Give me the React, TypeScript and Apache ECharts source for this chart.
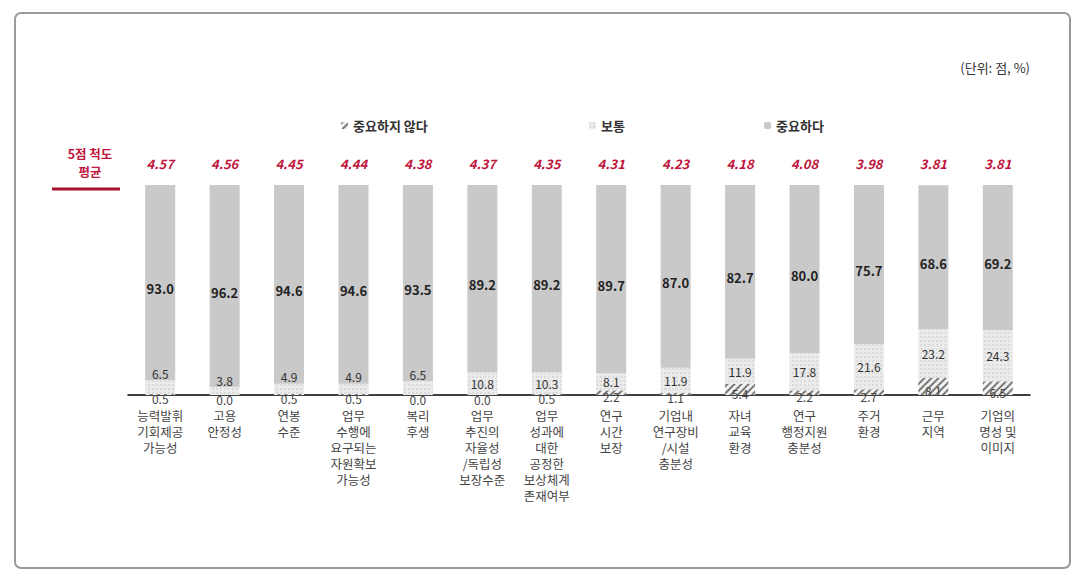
import React, { useEffect, useRef } from "react";
import * as echarts from "echarts";

const categories = [
  "능력발휘\n기회제공\n가능성",
  "고용\n안정성",
  "연봉\n수준",
  "업무\n수행에\n요구되는\n자원확보\n가능성",
  "복리\n후생",
  "업무\n추진의\n자율성\n/독립성\n보장수준",
  "업무\n성과에\n대한\n공정한\n보상체계\n존재여부",
  "연구\n시간\n보장",
  "기업내\n연구장비\n/시설\n충분성",
  "자녀\n교육\n환경",
  "연구\n행정지원\n충분성",
  "주거\n환경",
  "근무\n지역",
  "기업의\n명성 및\n이미지",
];
const notImportant = [0.5, 0.0, 0.5, 0.5, 0.0, 0.0, 0.5, 2.2, 1.1, 5.4, 2.2, 2.7, 8.1, 6.5];
const normal = [6.5, 3.8, 4.9, 4.9, 6.5, 10.8, 10.3, 8.1, 11.9, 11.9, 17.8, 21.6, 23.2, 24.3];
const important = [93.0, 96.2, 94.6, 94.6, 93.5, 89.2, 89.2, 89.7, 87.0, 82.7, 80.0, 75.7, 68.6, 69.2];
const averages = ["4.57", "4.56", "4.45", "4.44", "4.38", "4.37", "4.35", "4.31", "4.23", "4.18", "4.08", "3.98", "3.81", "3.81"];
const seriesNames = ["중요하지 않다", "보통", "중요하다"];

const FONT = "'Noto Sans CJK KR', 'Noto Sans', sans-serif";
const RED = "#c0143c";

export default function App() {
  const ref = useRef<HTMLDivElement>(null);
  useEffect(() => {
    if (!ref.current) return;
    const chart = echarts.init(ref.current, undefined, { renderer: "svg" });
    const hatch = {
      symbol: "rect",
      symbolSize: 1,
      dashArrayX: [1, 0],
      dashArrayY: [1.5, 3],
      rotation: -Math.PI / 4,
      color: "#7a7a7a",
    };
    const dots = {
      symbol: "circle",
      symbolSize: 0.8,
      dashArrayX: [[2, 2]],
      dashArrayY: [2, 2],
      color: "#d2d2d2",
    };
    const fmt = (p: any) => Number(p.value).toFixed(1);
    chart.setOption({
      animation: false,
      textStyle: { fontFamily: FONT },
      legend: [
        { data: [seriesNames[0]], left: 336, top: 114 },
        { data: [seriesNames[1]], left: 584, top: 114 },
        { data: [seriesNames[2]], left: 759, top: 114 },
      ].map((l) => ({
        ...l,
        itemWidth: 7,
        itemHeight: 7,
        itemGap: 4,
        textStyle: { fontSize: 13, fontWeight: "bold", color: "#333", fontFamily: FONT },
      })),
      grid: { left: 128, right: 55, top: 185, bottom: 185, containLabel: false },
      xAxis: [
        {
          type: "category",
          data: categories,
          axisLine: { lineStyle: { color: "#000", width: 1.5 } },
          axisTick: { inside: true, length: 10, lineStyle: { color: "#000", width: 1.5 } },
          axisLabel: {
            interval: 0,
            margin: 12,
            fontSize: 12.5,
            lineHeight: 16,
            color: "#444",
            fontFamily: FONT,
          },
        },
        {
          type: "category",
          position: "top",
          data: averages,
          axisLine: { show: false },
          axisTick: { show: false },
          axisLabel: {
            interval: 0,
            margin: 15,
            fontSize: 13,
            fontStyle: "italic",
            fontWeight: "bold",
            color: RED,
            fontFamily: FONT,
          },
        },
      ],
      yAxis: { type: "value", min: 0, max: 100, show: false },
      series: [
        {
          name: seriesNames[0],
          type: "bar",
          stack: "all",
          barWidth: 30,
          data: notImportant,
          itemStyle: { color: "#f2f2f2", decal: hatch },
          label: {
            show: true,
            position: "inside",
            offset: [0, 4],
            formatter: fmt,
            fontSize: 12,
            color: "#444",
            fontFamily: FONT,
          },
        },
        {
          name: seriesNames[1],
          type: "bar",
          stack: "all",
          barWidth: 30,
          data: normal.map((v) => ({
            value: v,
            label: v < 7 ? { position: "top", distance: 1 } : { position: "inside" },
          })),
          itemStyle: { color: "#ebebeb", decal: dots },
          label: {
            show: true,
            formatter: fmt,
            fontSize: 12,
            color: "#333",
            fontFamily: FONT,
          },
        },
        {
          name: seriesNames[2],
          type: "bar",
          stack: "all",
          barWidth: 30,
          data: important,
          itemStyle: { color: "#c9c9c9" },
          label: {
            show: true,
            position: "inside",
            offset: [0, 6],
            formatter: fmt,
            fontSize: 13,
            fontWeight: "bold",
            color: "#222",
            fontFamily: FONT,
          },
        },
      ],
      graphic: [
        {
          type: "rect",
          shape: { x: 15, y: 13, width: 1055, height: 555, r: 6 },
          style: { fill: "none", stroke: "#9a9a9a", lineWidth: 2 },
          silent: true,
        },
        {
          type: "text",
          right: 55,
          top: 61,
          style: { text: "(단위: 점, %)", fontSize: 13, fill: "#333", fontFamily: FONT },
        },
        {
          type: "text",
          x: 90,
          y: 162,
          style: {
            text: "5점 척도\n평균",
            fontSize: 12.5,
            fontWeight: "bold",
            fill: RED,
            align: "center",
            verticalAlign: "middle",
            lineHeight: 18,
            fontFamily: FONT,
          },
        },
        {
          type: "line",
          shape: { x1: 52, y1: 189, x2: 120, y2: 189 },
          style: { stroke: "#a3122a", lineWidth: 3 },
        },
      ],
    });
    return () => chart.dispose();
  }, []);
  return (
    <div
      ref={ref}
      style={{ position: "absolute", left: 0, top: 0, width: 1085, height: 580, background: "#fff" }}
    />
  );
}
